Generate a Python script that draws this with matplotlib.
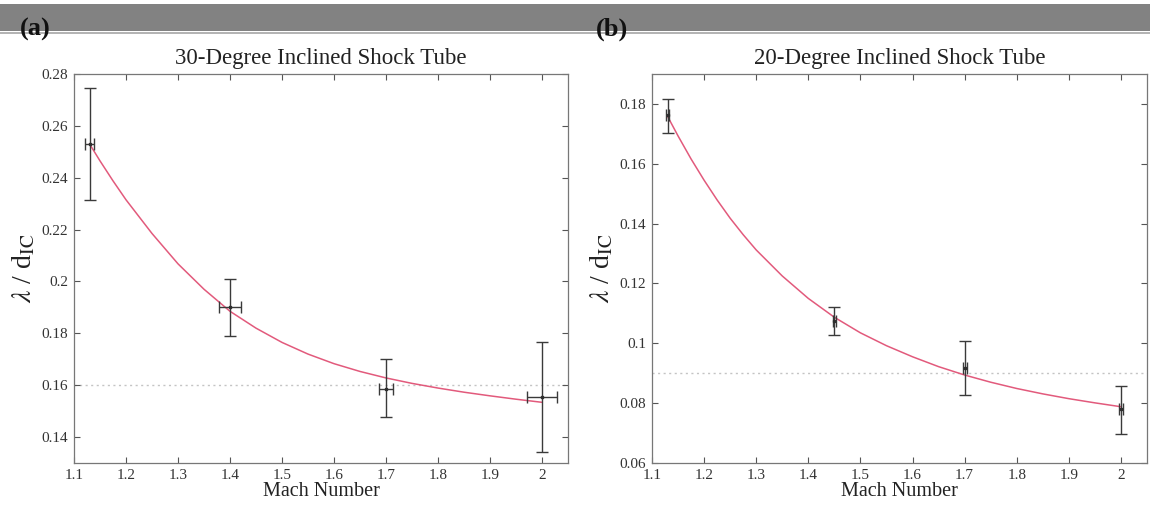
import matplotlib
matplotlib.use("Agg")
import matplotlib.pyplot as plt
from matplotlib.patches import Rectangle
from matplotlib.ticker import FormatStrFormatter, MultipleLocator

plt.rcParams['font.family'] = ['Liberation Serif', 'DejaVu Serif']
plt.rcParams['mathtext.fontset'] = 'stix'

# --- panel (a): 30-degree tube ---
mach_a = [1.13, 1.40, 1.70, 2.00]
ratio_a = [0.253, 0.190, 0.1587, 0.1553]
yerr_lo_a = [0.0217, 0.0109, 0.0109, 0.0212]
yerr_hi_a = [0.0215, 0.0109, 0.0113, 0.0214]
xerr_a = [0.009, 0.022, 0.013, 0.028]
ref_a = 0.160
fit_x_a = [1.13, 1.15, 1.175, 1.20, 1.25, 1.30, 1.35, 1.40, 1.45, 1.50, 1.55,
           1.60, 1.65, 1.70, 1.75, 1.80, 1.85, 1.90, 1.95, 2.00]
fit_y_a = [0.2530, 0.2465, 0.2388, 0.2315, 0.2185, 0.2068, 0.1970, 0.1885,
           0.1820, 0.1765, 0.1720, 0.1683, 0.1653, 0.1628, 0.1607, 0.1589,
           0.1573, 0.1559, 0.1546, 0.1534]

# --- panel (b): 20-degree tube ---
mach_b = [1.13, 1.45, 1.70, 2.00]
ratio_b = [0.1762, 0.1074, 0.0918, 0.0779]
yerr_lo_b = [0.0058, 0.0047, 0.0091, 0.0083]
yerr_hi_b = [0.0054, 0.0048, 0.0090, 0.0078]
xerr_b = [0.003, 0.003, 0.004, 0.003]
ref_b = 0.090
fit_x_b = [1.13, 1.15, 1.175, 1.20, 1.225, 1.25, 1.275, 1.30, 1.35, 1.40, 1.45,
           1.50, 1.55, 1.60, 1.65, 1.70, 1.75, 1.80, 1.85, 1.90, 1.95, 2.00]
fit_y_b = [0.1758, 0.1693, 0.1616, 0.1545, 0.1479, 0.1418, 0.1363, 0.1312,
           0.1225, 0.1150, 0.1087, 0.1035, 0.0992, 0.0955, 0.0922, 0.0894,
           0.0870, 0.0849, 0.0831, 0.0815, 0.0801, 0.0788]

titles = ['30-Degree Inclined Shock Tube', '20-Degree Inclined Shock Tube']
panel_tags = ['(a)', '(b)']

W, H = 1150, 507
fig = plt.figure(figsize=(W / 100, H / 100), dpi=100)

# grey header band
fig.patches.append(Rectangle((0, 1 - 31 / H), 1, 27 / H, transform=fig.transFigure,
                             facecolor='#828282', edgecolor='none', zorder=0))
fig.patches.append(Rectangle((0, 1 - 34 / H), 1, 2 / H, transform=fig.transFigure,
                             facecolor='#b4b4b4', edgecolor='none', zorder=0))

panels = [
    dict(left=74, right=568, mach=mach_a, ratio=ratio_a, lo=yerr_lo_a, hi=yerr_hi_a,
         xerr=xerr_a, ref=ref_a, fx=fit_x_a, fy=fit_y_a, ylim=(0.13, 0.28),
         ystep=0.02, tagx=20),
    dict(left=652, right=1147, mach=mach_b, ratio=ratio_b, lo=yerr_lo_b, hi=yerr_hi_b,
         xerr=xerr_b, ref=ref_b, fx=fit_x_b, fy=fit_y_b, ylim=(0.06, 0.19),
         ystep=0.02, tagx=596),
]

top, bottom = 74, 463
for i, p in enumerate(panels):
    ax = fig.add_axes([p['left'] / W, 1 - bottom / H,
                       (p['right'] - p['left']) / W, (bottom - top) / H])
    ax.axhline(p['ref'], color='#c4c4c4', lw=1.0, ls=(0, (1.5, 2.5)), zorder=1)
    ax.plot(p['fx'], p['fy'], color='#e25a7c', lw=1.1, zorder=2)
    ax.errorbar(p['mach'], p['ratio'], yerr=[p['lo'], p['hi']], xerr=p['xerr'],
                fmt='s', ms=2, color='#2e2e2e', ecolor='#3a3a3a', elinewidth=1.0,
                capsize=4, capthick=1.0, zorder=3)
    ax.set_xlim(1.1, 2.05)
    ax.set_ylim(*p['ylim'])
    ax.xaxis.set_major_locator(MultipleLocator(0.1))
    ax.yaxis.set_major_locator(MultipleLocator(p['ystep']))
    ax.xaxis.set_major_formatter(FormatStrFormatter('%g'))
    ax.yaxis.set_major_formatter(FormatStrFormatter('%g'))
    ax.tick_params(direction='in', top=True, right=True, length=4, width=0.8,
                   color='#555555', labelsize=11, labelcolor='#333333', pad=4)
    for s in ax.spines.values():
        s.set_color('#777777')
        s.set_linewidth(0.9)
    ax.set_xlabel('Mach Number', fontsize=14.5, labelpad=0, color='#222222')
    ax.set_ylabel(r'$\lambda$ / d$_{\rm IC}$', fontsize=20, labelpad=3, color='#222222')
    ax.set_title(titles[i], fontsize=16.5, pad=7, color='#222222')
    fig.text(p['tagx'] / W, 1 - 29 / H, panel_tags[i], fontsize=19,
             fontweight='bold', va='center', ha='left', color='#111111')

fig.savefig('out.png', dpi=100)
